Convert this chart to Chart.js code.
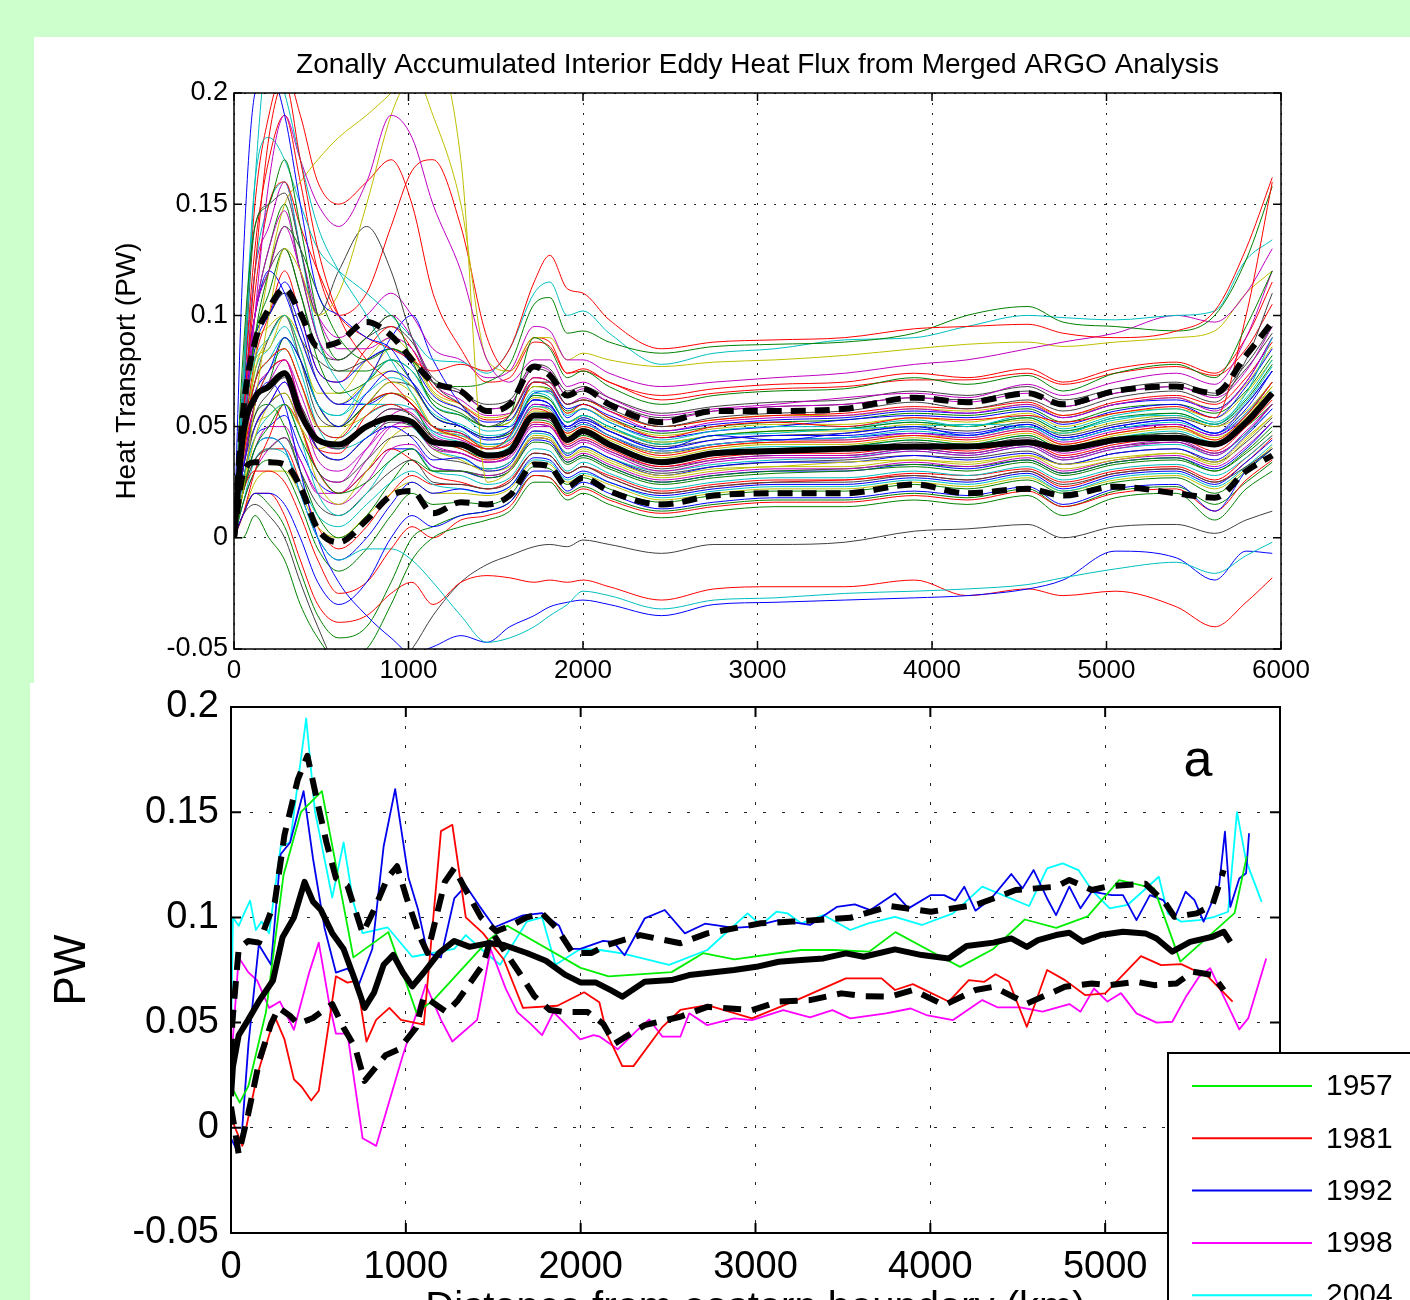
<!DOCTYPE html>
<html><head><meta charset="utf-8">
<script src="https://cdn.jsdelivr.net/npm/chart.js@4.4.0/dist/chart.umd.min.js"></script>
<style>
html,body{margin:0;padding:0;overflow:hidden;background:#ccffcc;width:1410px;height:1300px;position:relative}
#p1{position:absolute;left:34px;top:37px;width:1376px;height:646px;background:#fff}
#p2{position:absolute;left:30px;top:683px;width:1380px;height:700px;background:#fff}
#c1{position:absolute;left:0;top:0}
#c2{position:absolute;left:0;top:683px}
</style></head><body>
<div id="p1"></div><div id="p2"></div>
<canvas id="c1" width="1410" height="683"></canvas>
<canvas id="c2" width="1410" height="760"></canvas>
<script>
// ---------------- TOP PANEL DATA ----------------
const TOP_TITLE = 'Zonally Accumulated Interior Eddy Heat Flux from Merged ARGO Analysis';
const TOP_YLABEL = 'Heat Transport (PW)';
const TOP_X_TICKS = [0, 1000, 2000, 3000, 4000, 5000, 6000];
const TOP_Y_TICKS = [-0.05, 0, 0.05, 0.1, 0.15, 0.2];
const X_TOP = [0,50,120,200,290,380,480,600,760,900,1020,1140,1300,1450,1580,1720,1810,1910,2000,2150,2450,2750,3100,3500,3900,4200,4550,4750,5050,5400,5620,5800,5950];
const TOP_MEAN  = [0,.045,.063,.068,.074,.056,.044,.042,.050,.054,.052,.043,.042,.037,.039,.055,.055,.044,.048,.042,.034,.038,.039,.040,.041,.041,.043,.040,.044,.045,.042,.052,.065];
const TOP_UPPER = [0,.055,.088,.103,.112,.101,.086,.088,.097,.091,.080,.070,.066,.057,.060,.077,.073,.064,.067,.060,.052,.057,.057,.058,.063,.061,.065,.060,.066,.068,.065,.082,.097];
const TOP_LOWER = [0,.028,.034,.034,.033,.023,.004,-.002,.008,.019,.021,.011,.016,.015,.019,.033,.032,.023,.027,.021,.015,.019,.020,.020,.024,.020,.022,.019,.023,.020,.018,.030,.037];
const T01=[0,.12,.2,.21,.19,.15,.11,.1,.09,.085,.07,.055,.05,.045,.048,.062,.06,.05,.054,.048,.04,.046,.044,.047,.05,.046,.051,.045,.05,.053,.047,.06,.075];
const T02=[0,.08,.14,.15,.17,.14,.1,.08,.09,.1,.08,.06,.055,.05,.055,.09,.085,.072,.075,.068,.06,.064,.066,.067,.072,.069,.073,.066,.074,.078,.072,.095,.12];
const T03=[0,.05,.12,.18,.205,.17,.13,.1,.08,.07,.06,.05,.047,.04,.046,.07,.068,.056,.06,.054,.045,.05,.052,.05,.054,.053,.055,.052,.056,.059,.054,.1,.16];
const T04=[0,.06,.16,.22,.2,.17,.14,.12,.1,.08,.065,.05,.048,.04,.045,.065,.063,.052,.055,.05,.042,.046,.047,.049,.05,.051,.05,.047,.054,.055,.051,.065,.09];
const T05=[0,.04,.1,.16,.19,.17,.15,.14,.16,.19,.18,.15,.12,.08,.07,.08,.08,.068,.07,.063,.055,.058,.06,.063,.065,.063,.069,.064,.07,.074,.069,.09,.12];
const T06=[0,.02,.06,.1,.13,.12,.1,.11,.15,.19,.21,.22,.17,.025,.03,.045,.044,.036,.04,.035,.028,.031,.032,.034,.035,.034,.037,.033,.036,.038,.034,.045,.055];
const T07=[0,.06,.14,.15,.155,.13,.1,.12,.14,.12,.09,.07,.06,.05,.055,.07,.07,.06,.062,.058,.05,.054,.056,.057,.061,.058,.062,.057,.063,.066,.061,.08,.11];
const T08=[0,.03,.05,.06,.07,.055,.04,.035,.045,.05,.045,.035,.036,.03,.033,.048,.047,.037,.041,.036,.028,.032,.034,.034,.037,.035,.038,.033,.038,.04,.035,.046,.058];
const T09=[0,.02,.04,.05,.06,.045,.03,.02,.025,.035,.04,.03,.03,.027,.03,.043,.042,.033,.036,.031,.024,.027,.029,.03,.032,.03,.034,.028,.033,.035,.03,.038,.048];
const T10=[0,.04,.07,.08,.085,.07,.05,.045,.06,.065,.06,.05,.045,.04,.042,.058,.056,.047,.05,.045,.037,.041,.043,.043,.046,.044,.048,.042,.047,.05,.044,.055,.07];
const T11=[0,.05,.08,.09,.1,.085,.06,.055,.07,.08,.075,.06,.055,.048,.05,.066,.065,.055,.058,.052,.044,.048,.05,.05,.053,.05,.055,.049,.055,.058,.052,.063,.08];
const T12=[0,.03,.06,.07,.08,.06,.035,.03,.04,.05,.05,.04,.038,.034,.036,.05,.05,.04,.043,.038,.03,.034,.036,.036,.039,.037,.041,.035,.04,.043,.037,.048,.06];
const T13=[0,.02,.045,.06,.065,.05,.025,.015,.03,.045,.05,.04,.035,.03,.032,.046,.045,.036,.039,.034,.027,.03,.032,.032,.035,.033,.037,.031,.035,.038,.033,.044,.055];
const T14=[0,.03,.055,.065,.072,.06,.045,.04,.05,.058,.055,.045,.042,.038,.04,.055,.053,.044,.047,.042,.034,.038,.04,.04,.043,.041,.045,.039,.044,.047,.042,.052,.065];
const T15=[0,.04,.065,.075,.09,.08,.06,.05,.065,.075,.07,.058,.05,.044,.046,.062,.06,.05,.053,.048,.04,.044,.046,.046,.049,.047,.051,.045,.05,.053,.047,.058,.075];
const T16=[0,.045,.09,.11,.13,.11,.08,.065,.07,.08,.07,.055,.05,.045,.047,.064,.062,.052,.055,.05,.042,.046,.048,.049,.052,.05,.054,.048,.054,.056,.051,.062,.078];
const T17=[0,.035,.06,.075,.08,.06,.04,.038,.055,.06,.055,.045,.04,.035,.038,.052,.051,.042,.045,.04,.032,.036,.038,.038,.041,.039,.043,.037,.042,.045,.039,.05,.062];
const T18=[0,.025,.045,.055,.06,.045,.02,.01,.02,.035,.04,.03,.028,.024,.027,.04,.039,.03,.034,.029,.022,.025,.027,.027,.03,.028,.032,.026,.031,.033,.028,.036,.046];
const T19=[0,.05,.1,.12,.14,.12,.09,.08,.09,.1,.09,.07,.062,.055,.056,.072,.07,.06,.063,.057,.048,.052,.054,.055,.058,.056,.06,.054,.06,.063,.057,.07,.09];
const T20=[0,.03,.05,.055,.06,.05,.04,.045,.06,.07,.065,.05,.045,.04,.042,.057,.056,.046,.049,.044,.036,.04,.042,.042,.045,.043,.047,.041,.046,.049,.044,.055,.068];
const T21=[0,.02,.035,.04,.045,.03,.015,.01,.02,.03,.035,.025,.024,.022,.025,.038,.037,.029,.032,.027,.02,.023,.025,.025,.028,.026,.03,.024,.029,.031,.025,.032,.04];
const T22=[0,.01,.02,.02,.015,0,-.02,-.03,-.02,0,.01,.005,.01,.012,.016,.03,.03,.021,.025,.02,.013,.016,.018,.018,.021,.019,.023,.015,.022,.024,.012,.03,.04];
const T23=[0,0,.01,0,-.01,-.03,-.045,-.055,-.05,-.03,-.01,0,.005,.008,.012,.025,.025,.017,.02,.015,.009,.012,.014,.014,.017,.015,.019,.01,.018,.02,.008,.022,.03];
const T24=[0,.02,.03,.03,.025,.01,-.01,-.025,-.02,-.005,.005,0,.008,.01,.014,.028,.027,.019,.022,.017,.011,.014,.016,.016,.019,.017,.021,.014,.02,.022,.012,.026,.035];
const T25=[0,.02,.04,.045,.04,.02,0,-.01,-.005,-.005,-.01,-.02,-.035,-.047,-.045,-.04,-.035,-.03,-.024,-.026,-.032,-.028,-.027,-.025,-.024,-.023,-.021,-.018,-.014,-.011,-.016,-.008,-.002];
const T26=[0,.03,.06,.07,.06,.03,0,-.02,-.035,-.045,-.052,-.049,-.044,-.047,-.04,-.035,-.031,-.029,-.028,-.03,-.035,-.03,-.029,-.028,-.027,-.026,-.023,-.019,-.006,-.009,-.019,-.006,-.007];
const T27=[0,.01,.02,.02,.01,-.01,-.03,-.038,-.035,-.025,-.02,-.03,-.02,-.017,-.018,-.02,-.019,-.02,-.019,-.022,-.028,-.023,-.022,-.022,-.019,-.026,-.023,-.026,-.024,-.031,-.04,-.029,-.018];
const T28=[0,.01,.015,.01,0,-.02,-.04,-.06,-.07,-.06,-.05,-.035,-.02,-.012,-.008,-.004,-.003,-.004,-.001,-.003,-.007,-.003,-.003,-.002,.003,.004,.006,0,.005,.006,.002,.008,.012];
const T29=[0,.05,.11,.15,.16,.14,.12,.1,.09,.085,.08,.075,.078,.075,.085,.115,.127,.112,.11,.098,.085,.088,.089,.09,.094,.095,.096,.092,.09,.093,.102,.13,.162];
const T30=[0,.04,.09,.12,.14,.13,.11,.09,.08,.085,.08,.07,.068,.07,.078,.105,.108,.092,.093,.088,.083,.086,.087,.088,.092,.1,.104,.097,.095,.093,.1,.125,.158];
const T31=[0,.07,.16,.18,.17,.15,.13,.12,.11,.1,.09,.08,.079,.074,.085,.11,.115,.1,.102,.092,.078,.083,.085,.089,.09,.095,.1,.099,.098,.1,.102,.125,.134];
const T32=[0,.05,.1,.13,.147,.12,.1,.09,.1,.11,.1,.085,.08,.072,.075,.095,.093,.08,.08,.074,.068,.07,.072,.074,.078,.08,.085,.088,.092,.1,.097,.11,.13];
const T33=[0,.03,.08,.12,.15,.16,.17,.18,.19,.2,.21,.19,.15,.08,.075,.09,.09,.08,.083,.08,.077,.079,.08,.082,.085,.087,.088,.086,.088,.09,.093,.11,.12];
const T34=[0,.06,.1,.12,.11,.09,.07,.06,.07,.09,.1,.08,.06,.05,.05,.065,.066,.054,.058,.052,.045,.048,.05,.053,.055,.054,.057,.051,.057,.06,.054,.068,.085];
const T35=[0,.03,.06,.07,.09,.08,.06,.05,.06,.065,.06,.045,.04,.036,.039,.053,.052,.043,.046,.041,.035,.038,.04,.041,.044,.042,.046,.04,.045,.047,.042,.05,.06];
const T36=[0,.01,.03,.045,.06,.05,.03,.02,.03,.04,.035,.028,.025,.022,.026,.038,.037,.029,.032,.028,.021,.024,.026,.026,.029,.028,.031,.025,.03,.032,.026,.036,.046];
const T37=[0,.04,.07,.08,.09,.075,.05,.04,.045,.055,.05,.04,.036,.031,.034,.047,.046,.038,.041,.036,.03,.033,.035,.036,.039,.037,.041,.035,.04,.042,.037,.047,.058];
const T38=[0,.02,.04,.05,.05,.035,.02,.015,.025,.04,.042,.032,.03,.028,.031,.045,.044,.035,.038,.033,.026,.029,.031,.031,.034,.032,.036,.03,.035,.037,.032,.041,.052];
const T39=[0,.05,.08,.085,.1,.09,.07,.06,.07,.075,.068,.055,.05,.045,.048,.063,.062,.052,.054,.049,.043,.046,.048,.048,.051,.05,.053,.047,.052,.055,.05,.057,.07];
const T40=[0,.04,.07,.09,.1,.08,.055,.05,.06,.07,.068,.055,.05,.045,.047,.062,.06,.05,.053,.048,.041,.044,.046,.047,.05,.048,.052,.046,.051,.054,.05,.06,.075];
const T41=[0,.05,.09,.1,.115,.1,.075,.07,.08,.085,.078,.064,.058,.052,.053,.07,.068,.058,.06,.055,.048,.051,.053,.054,.057,.056,.059,.054,.06,.062,.058,.07,.09];
const T42=[0,.015,.03,.035,.03,.015,-.005,-.015,-.005,.01,.02,.015,.016,.015,.019,.032,.031,.024,.027,.022,.016,.019,.021,.021,.024,.022,.026,.02,.025,.027,.02,.03,.04];
const T43=[0,.06,.13,.17,.19,.16,.12,.1,.11,.14,.165,.17,.14,.09,.075,.09,.088,.074,.075,.07,.062,.065,.067,.068,.071,.071,.074,.069,.074,.077,.073,.085,.105];
const T44=[0,.05,.12,.15,.16,.13,.09,.07,.06,.06,.055,.048,.046,.042,.044,.059,.058,.048,.051,.046,.039,.042,.044,.045,.048,.046,.05,.044,.049,.052,.047,.056,.07];
const T45=[0,.03,.05,.06,.07,.05,.03,.025,.04,.055,.058,.048,.044,.04,.043,.06,.058,.048,.051,.046,.039,.042,.044,.044,.047,.045,.049,.043,.048,.051,.046,.056,.07];
const T46=[0,.04,.07,.08,.085,.07,.05,.05,.07,.085,.08,.065,.058,.05,.052,.068,.066,.056,.058,.053,.046,.049,.051,.051,.054,.052,.056,.05,.056,.058,.054,.065,.08];
const T47=[0,.05,.09,.1,.11,.09,.08,.075,.08,.085,.08,.07,.065,.06,.062,.078,.076,.066,.068,.063,.056,.059,.061,.062,.066,.064,.068,.062,.067,.07,.065,.078,.095];
const T48=[0,.02,.04,.045,.04,.02,0,-.01,0,.015,.025,.02,.022,.02,.023,.036,.035,.027,.03,.025,.019,.022,.024,.024,.027,.025,.029,.022,.028,.03,.024,.034,.044];
const T49=[0,.01,.02,.015,.005,-.015,-.035,-.045,-.04,-.02,0,.005,.01,.012,.016,.028,.027,.02,.023,.018,.012,.015,.017,.017,.02,.018,.022,.014,.021,.023,.015,.025,.034];
const T50=[0,.07,.15,.19,.21,.19,.16,.15,.16,.17,.15,.11,.085,.07,.072,.088,.086,.074,.076,.07,.064,.067,.069,.07,.074,.072,.076,.07,.076,.079,.074,.09,.115];
const T51=[0,.015,.035,.04,.038,.025,.01,.005,.015,.025,.03,.024,.022,.02,.023,.035,.034,.026,.029,.025,.018,.021,.023,.023,.026,.024,.028,.021,.027,.029,.023,.032,.042];
const T52=[0,.06,.12,.14,.16,.13,.1,.085,.085,.09,.085,.07,.065,.058,.06,.077,.075,.064,.067,.061,.053,.057,.059,.06,.063,.061,.065,.059,.065,.068,.063,.075,.095];
const T53=[0,.035,.075,.09,.1,.085,.06,.05,.055,.065,.062,.05,.046,.041,.044,.059,.057,.047,.05,.045,.038,.041,.043,.044,.046,.045,.049,.042,.047,.05,.045,.054,.068];
const T54=[0,.025,.05,.06,.065,.05,.03,.025,.035,.045,.046,.037,.034,.031,.034,.048,.047,.038,.041,.036,.029,.032,.034,.035,.037,.036,.039,.033,.038,.04,.034,.043,.054];
const T55=[0,.045,.085,.1,.11,.095,.07,.06,.06,.065,.06,.05,.047,.042,.044,.06,.059,.049,.052,.046,.038,.042,.044,.045,.047,.046,.05,.044,.049,.051,.046,.055,.07];
const T56=[0,.03,.055,.06,.05,.03,.01,0,.01,.025,.035,.03,.03,.028,.031,.045,.044,.034,.037,.032,.025,.028,.03,.031,.033,.032,.035,.029,.034,.036,.03,.039,.05];
const T57=[0,.04,.08,.1,.12,.1,.075,.07,.085,.095,.085,.068,.06,.053,.055,.072,.07,.06,.062,.057,.05,.053,.055,.056,.059,.058,.061,.055,.061,.064,.06,.072,.088];
const T58=[0,.03,.06,.075,.085,.07,.05,.045,.055,.06,.058,.047,.043,.038,.041,.056,.054,.045,.048,.043,.035,.039,.041,.041,.044,.042,.046,.04,.045,.048,.043,.052,.066];
const T59=[0,.015,.03,.04,.045,.035,.02,.02,.035,.05,.052,.042,.038,.034,.037,.051,.05,.041,.044,.039,.032,.035,.037,.037,.04,.038,.042,.036,.041,.044,.038,.047,.06];
const T60=[0,.01,.025,.03,.03,.02,.005,0,.01,.02,.025,.02,.02,.019,.022,.034,.033,.025,.028,.024,.017,.02,.022,.022,.025,.023,.027,.021,.026,.028,.022,.031,.041];
const T61=[0,.055,.1,.12,.13,.11,.085,.08,.09,.095,.088,.072,.066,.058,.06,.076,.074,.064,.066,.061,.054,.057,.059,.06,.063,.062,.066,.059,.065,.068,.064,.076,.092];
const T62=[0,.025,.045,.05,.055,.04,.025,.02,.03,.04,.04,.032,.03,.027,.03,.044,.043,.034,.037,.032,.025,.028,.03,.03,.033,.031,.035,.029,.034,.036,.031,.04,.052];
const T63=[0,.05,.1,.13,.15,.12,.09,.075,.075,.08,.075,.062,.056,.05,.052,.068,.067,.057,.06,.054,.047,.05,.052,.053,.056,.055,.058,.052,.058,.06,.056,.066,.082];
const T64=[0,.02,.035,.04,.04,.025,.005,-.005,.005,.02,.028,.024,.024,.022,.025,.038,.037,.029,.032,.027,.02,.023,.025,.026,.028,.026,.03,.023,.029,.031,.025,.034,.045];
const T65=[0,.04,.075,.085,.095,.08,.06,.055,.065,.072,.068,.056,.051,.046,.048,.064,.062,.052,.055,.05,.043,.046,.048,.049,.052,.05,.054,.048,.053,.056,.051,.061,.077];
const T66=[0,.035,.065,.075,.08,.065,.045,.04,.05,.058,.056,.046,.042,.037,.04,.054,.053,.044,.047,.042,.034,.037,.039,.04,.042,.041,.044,.038,.043,.046,.041,.05,.064];
const T67=[0,.045,.085,.095,.1,.085,.065,.065,.08,.09,.082,.066,.06,.054,.056,.072,.07,.06,.062,.057,.05,.053,.055,.055,.058,.057,.06,.055,.06,.063,.058,.069,.086];
const T68=[0,.03,.06,.07,.075,.06,.04,.035,.045,.052,.05,.041,.038,.034,.037,.051,.05,.041,.044,.039,.031,.035,.037,.037,.04,.038,.042,.036,.041,.043,.038,.047,.06];
const TOP_THIN = [T01,T02,T03,T04,T05,T06,T07,T08,T09,T10,T11,T12,T13,T14,T15,T16,T17,T18,T19,T20,T21,T22,T23,T24,T25,T26,T27,T28,T29,T30,T31,T32,T33,T34,T35,T36,T37,T38,T39,T40,T41,T42,T43,T44,T45,T46,T47,T48,T49,T50,T51,T52,T53,T54,T55,T56,T57,T58,T59,T60,T61,T62,T63,T64,T65,T66,T67,T68];

// ---------------- BOTTOM PANEL DATA ----------------
const BOT_YLABEL = 'PW';
const BOT_XLABEL = 'Distance from eastern boundary (km)';
const BOT_TAG = 'a';
const BOT_X_TICKS = [0, 1000, 2000, 3000, 4000, 5000];
const BOT_Y_TICKS = [-0.05, 0, 0.05, 0.1, 0.15, 0.2];
const YEARS = ['1957', '1981', '1992', '1998', '2004'];
const Y57_X=[0,50,100,200,300,400,520,700,900,1060,1150,1470,1580,2000,2160,2520,2700,2880,3260,3450,3650,3800,4000,4170,4360,4540,4720,4900,5080,5280,5430,5740,5810];
const Y57  =[.02,.012,.02,.055,.12,.15,.16,.081,.093,.055,.06,.089,.096,.076,.072,.074,.083,.08,.0845,.0845,.0837,.093,.084,.0765,.085,.099,.095,.1005,.1177,.1138,.079,.102,.129];
const Y81_X=[0,65,150,250,306,360,404,459,502,600,666,720,775,830,906,972,1048,1103,1201,1266,1343,1441,1560,1670,1867,2020,2107,2149,2238,2302,2468,2570,2724,2980,3235,3517,3721,3798,3900,4105,4220,4309,4373,4450,4552,4668,4770,4885,5000,5205,5320,5435,5588,5729];
const Y81  =[.005,-.0086,.025,.053,.042,.023,.0195,.013,.0176,.072,.069,.07,.041,.0513,.057,.0513,.05,.049,.141,.144,.1,.0925,.08,.057,.058,.0644,.0597,.0449,.0293,.0293,.048,.056,.0583,.052,.0607,.071,.071,.0655,.0683,.06,.0702,.0694,.073,.0694,.048,.075,.0702,.0631,.0639,.0816,.0773,.0778,.0718,.06];
const Y92_X=[0,33,60,100,159,229,284,338,415,469,535,600,666,731,808,873,939,1015,1070,1124,1201,1277,1343,1419,1507,1670,1780,1877,1932,1998,2129,2187,2251,2366,2481,2596,2711,2877,2980,3133,3312,3465,3568,3657,3798,3875,4003,4079,4143,4194,4258,4348,4463,4527,4591,4668,4719,4795,4859,4923,5038,5102,5179,5256,5332,5396,5460,5511,5563,5652,5685,5716,5767,5806,5823];
const Y92  =[-.005,-.0105,-.005,.04,.087,.0775,.13,.1356,.16,.128,.095,.0738,.0757,.068,.085,.1337,.161,.119,.1037,.083,.081,.109,.115,.1056,.0953,.101,.102,.096,.085,.085,.0888,.0884,.082,.0995,.1035,.0924,.097,.095,.0956,.0987,.0964,.105,.1062,.1035,.1114,.1043,.1106,.1106,.108,.1146,.1032,.109,.1206,.1138,.1225,.109,.1011,.1146,.1043,.1122,.1106,.1106,.0987,.1106,.1082,.0995,.1122,.1082,.098,.1154,.1407,.105,.1185,.121,.14];
const Y98_X=[0,44,98,150,218,280,360,448,502,560,600,666,753,830,983,1114,1201,1266,1408,1485,1572,1638,1714,1779,1845,1998,2074,2110,2212,2315,2392,2468,2570,2621,2724,2877,2980,3159,3312,3440,3542,3747,3888,3977,4130,4297,4386,4514,4642,4795,4859,4936,5013,5090,5179,5294,5384,5460,5537,5601,5767,5818,5921];
const Y98  =[.03,.081,.074,.07,.057,.06,.0466,.074,.088,.06,.0448,.0448,-.005,-.0086,.0345,.068,.0513,.041,.0513,.085,.066,.055,.0494,.044,.055,.042,.044,.0433,.0373,.0457,.0515,.0433,.0433,.0544,.0488,.052,.0512,.0559,.0525,.0559,.052,.0544,.0567,.0536,.0512,.0607,.0572,.0572,.0552,.0588,.0552,.0662,.06,.064,.0544,.05,.0504,.062,.0718,.0758,.0468,.052,.0805];
const Y04_X=[0,11,44,76,109,142,175,218,284,338,430,480,579,644,699,753,895,1037,1277,1343,1430,1539,1692,1780,1856,1998,2110,2238,2506,2724,2954,3031,3120,3184,3261,3389,3542,3645,3798,3951,4130,4297,4565,4668,4757,4847,4923,5026,5128,5307,5358,5435,5537,5626,5703,5754,5806,5895];
const Y04  =[.04,.1,.096,.102,.108,.094,.098,.0925,.1337,.1356,.1946,.1506,.1094,.1356,.1075,.0925,.0953,.0813,.085,.0916,.085,.0775,.098,.1,.0775,.085,.0845,.0829,.0774,.0845,.1019,.0964,.1027,.1019,.0972,.1011,.094,.0972,.1003,.0964,.1019,.1146,.1054,.1233,.1257,.1225,.113,.1043,.1059,.1193,.1019,.098,.0987,.1003,.1027,.15,.127,.1074];
const BM_X=[0,11,44,98,164,240,295,360,421,469,513,579,644,710,764,819,873,928,983,1037,1103,1190,1277,1365,1474,1561,1692,1801,1910,1998,2085,2172,2238,2366,2519,2621,2877,3005,3133,3261,3389,3517,3619,3798,3951,4105,4207,4361,4463,4552,4616,4719,4795,4872,4974,5102,5230,5294,5384,5486,5614,5678,5716];
const BM  =[.015,.029,.044,.0513,.0607,.07,.0906,.1,.1169,.1075,.1037,.0925,.085,.07,.057,.0644,.0775,.0822,.0738,.0672,.0738,.0831,.0888,.086,.0878,.0869,.0831,.0794,.0728,.0691,.0691,.0654,.0623,.0694,.0702,.0726,.075,.0765,.0789,.0797,.0805,.0829,.0813,.0848,.0821,.0805,.0864,.088,.09,.086,.0892,.0916,.0927,.0884,.0916,.0932,.0924,.09,.0837,.0884,.0908,.0932,.0884];
const BU_X=[0,7,44,98,160,251,306,382,437,491,546,600,666,753,819,895,950,1004,1081,1124,1223,1277,1343,1430,1517,1605,1692,1780,1867,1954,2063,2151,2340,2570,2724,3031,3210,3542,3772,4003,4258,4361,4488,4719,4795,4923,5026,5230,5345,5396,5524,5614,5678];
const BU  =[.02,.0494,.085,.0888,.088,.1075,.1393,.1655,.1768,.156,.1356,.1187,.115,.0925,.1037,.1187,.1243,.1094,.0906,.0831,.1169,.1234,.113,.1,.0934,.0963,.1,.1019,.0944,.0831,.0831,.0869,.0916,.0877,.0924,.0972,.098,.0998,.1054,.1027,.1059,.109,.113,.1146,.1178,.113,.1149,.116,.1067,.1003,.1019,.1059,.1225];
const BL_X=[0,44,98,164,229,273,338,382,469,579,644,710,764,884,961,1059,1103,1234,1299,1441,1496,1648,1736,1823,1910,2041,2129,2194,2366,2570,2724,2980,3133,3312,3491,3619,3772,3900,4079,4258,4361,4552,4770,4923,5026,5179,5281,5409,5499,5614,5678];
const BL  =[.01,-.0124,.0064,.0326,.0494,.057,.0532,.0494,.0522,.0588,.0476,.0382,.0223,.0345,.0373,.0476,.0625,.055,.0607,.0775,.0925,.0738,.0625,.056,.055,.055,.0494,.04,.0488,.0528,.0575,.0559,.06,.0607,.0639,.0626,.0623,.0655,.0583,.0655,.067,.059,.067,.0686,.0678,.0694,.0678,.0686,.0742,.0726,.0655];

// ---------------- STYLE ----------------
const FONT = "'Liberation Sans', Arial, Helvetica, sans-serif";
Chart.defaults.font.family = FONT;
Chart.defaults.color = '#000';
const MATLAB = {B:'#0000ff', G:'#008000', R:'#ff0000', C:'#00bfbf', M:'#bf00bf', Y:'#bfbf00', K:'#404040'};
const THIN_COLOR_KEYS = 'BGRCMYKBGRCMYKBGRCMYKBGRCBRKRGCMYBGRCMYKBGRCMYKBGRCMYKBGRCMYKBGRCMYK';
const YEAR_COLORS = ['#00ee00', '#ff0000', '#0000ee', '#ff00ff', '#00ffff'];

function pts(xs, ys) { return xs.map((x, i) => ({x: x, y: ys[i]})); }

const framePlugin = {
  id: 'frame',
  afterDatasetsDraw(chart, args, o) {
    const {ctx, chartArea: a, scales: {x, y}} = chart;
    ctx.save();
    ctx.strokeStyle = '#000';
    ctx.lineWidth = o.lw;
    ctx.strokeRect(a.left, a.top, a.right - a.left, a.bottom - a.top);
    ctx.beginPath();
    x.ticks.forEach(t => {
      const p = x.getPixelForValue(t.value);
      ctx.moveTo(p, a.bottom); ctx.lineTo(p, a.bottom - o.len);
      ctx.moveTo(p, a.top); ctx.lineTo(p, a.top + o.len);
    });
    y.ticks.forEach(t => {
      const p = y.getPixelForValue(t.value);
      ctx.moveTo(a.left, p); ctx.lineTo(a.left + o.len, p);
      ctx.moveTo(a.right, p); ctx.lineTo(a.right - o.len, p);
    });
    ctx.stroke();
    ctx.restore();
  }
};

function axis(ticksArr, min, max, fontSize, pad, fit, dash, isY, title) {
  const s = {
    type: 'linear', min: min, max: max,
    afterBuildTicks: sc => { sc.ticks = ticksArr.map(v => ({value: v})); },
    ticks: {autoSkip: false, maxRotation: 0, padding: pad, font: {size: fontSize}, color: '#000', callback: v => String(v)},
    grid: {color: '#222', lineWidth: 1, drawTicks: false},
    border: {display: false, dash: dash},
    afterFit: isY
      ? (sc => { sc.width = fit; sc.paddingTop = 0; sc.paddingBottom = 0; })
      : (sc => { sc.height = fit; sc.paddingLeft = 0; sc.paddingRight = 0; })
  };
  if (title) s.title = title;
  return s;
}

// ---------------- TOP CHART ----------------
const topSets = [];
topSets.push({data: pts(X_TOP, TOP_MEAN), borderColor: '#000', borderWidth: 6, order: 0});
topSets.push({data: pts(X_TOP, TOP_UPPER), borderColor: '#000', borderWidth: 6, borderDash: [15, 9], order: 1});
topSets.push({data: pts(X_TOP, TOP_LOWER), borderColor: '#000', borderWidth: 6, borderDash: [15, 9], order: 1});
TOP_THIN.forEach((arr, i) => {
  topSets.push({data: pts(X_TOP, arr), borderColor: MATLAB[THIN_COLOR_KEYS[i]], borderWidth: 1, order: 2});
});
topSets.forEach(d => { d.pointRadius = 0; d.fill = false; d.cubicInterpolationMode = 'monotone'; });

new Chart(document.getElementById('c1'), {
  type: 'line',
  data: {datasets: topSets},
  options: {
    responsive: false, animation: false, devicePixelRatio: 1, events: [],
    layout: {padding: {left: 0, right: 129, top: 0, bottom: 0}},
    plugins: {
      legend: {display: false}, tooltip: {enabled: false},
      title: {display: true, text: TOP_TITLE, fullSize: false, color: '#000',
        font: {size: 28, weight: 'normal', lineHeight: 1.2}, padding: {top: 48.2, bottom: 11.2}},
      frame: {lw: 1.5, len: 8}
    },
    scales: {
      x: axis(TOP_X_TICKS, 0, 6000, 26, 6, 34, [2, 8], false),
      y: axis(TOP_Y_TICKS, -0.05, 0.2, 27, 6, 234, [2, 8], true,
        {display: true, text: TOP_YLABEL, color: '#000', font: {size: 28, lineHeight: 1.2}, padding: {top: 110, bottom: 0}})
    }
  },
  plugins: [framePlugin]
});

// ---------------- BOTTOM CHART ----------------
const legendPlugin = {
  id: 'boxLegend',
  afterDraw(chart) {
    const {ctx, chartArea: a} = chart;
    ctx.save();
    ctx.fillStyle = '#000';
    ctx.font = '52px ' + FONT;
    ctx.textAlign = 'center';
    ctx.textBaseline = 'middle';
    ctx.fillText(BOT_TAG, a.right - 82, a.top + 55);
    const lx = a.right - 112, ly = a.bottom - 180;
    ctx.fillStyle = '#fff';
    ctx.fillRect(lx, ly, 500, 500);
    ctx.strokeStyle = '#000';
    ctx.lineWidth = 2;
    ctx.strokeRect(lx, ly, 500, 500);
    ctx.font = '30px ' + FONT;
    ctx.textAlign = 'left';
    chart.data.datasets.filter(d => d.label).forEach((d, i) => {
      const yy = ly + 33 + i * 52.3;
      ctx.strokeStyle = d.borderColor;
      ctx.lineWidth = 2;
      ctx.beginPath(); ctx.moveTo(lx + 24, yy); ctx.lineTo(lx + 144, yy); ctx.stroke();
      ctx.fillStyle = '#000';
      ctx.fillText(d.label, lx + 158, yy + 1);
    });
    ctx.restore();
  }
};

const botSets = [
  {data: pts(BM_X, BM), borderColor: '#000', borderWidth: 6, order: 0},
  {data: pts(BU_X, BU), borderColor: '#000', borderWidth: 6, borderDash: [18, 11], order: 1},
  {data: pts(BL_X, BL), borderColor: '#000', borderWidth: 6, borderDash: [18, 11], order: 1},
  {label: YEARS[0], data: pts(Y57_X, Y57), borderColor: YEAR_COLORS[0], borderWidth: 1.8, order: 2},
  {label: YEARS[1], data: pts(Y81_X, Y81), borderColor: YEAR_COLORS[1], borderWidth: 1.8, order: 2},
  {label: YEARS[2], data: pts(Y92_X, Y92), borderColor: YEAR_COLORS[2], borderWidth: 1.8, order: 2},
  {label: YEARS[3], data: pts(Y98_X, Y98), borderColor: YEAR_COLORS[3], borderWidth: 1.8, order: 2},
  {label: YEARS[4], data: pts(Y04_X, Y04), borderColor: YEAR_COLORS[4], borderWidth: 1.8, order: 2}
];
botSets.forEach(d => { d.pointRadius = 0; d.fill = false; d.tension = 0; d.borderJoinStyle = 'round'; });

new Chart(document.getElementById('c2'), {
  type: 'line',
  data: {datasets: botSets},
  options: {
    responsive: false, animation: false, devicePixelRatio: 1, events: [],
    layout: {padding: {left: 0, right: 130, top: 24, bottom: 0}},
    plugins: {legend: {display: false}, tooltip: {enabled: false}, frame: {lw: 2, len: 10}},
    scales: {
      x: axis(BOT_X_TICKS, 0, 6000, 38, 12, 210, [3, 16], false,
        {display: true, text: BOT_XLABEL, color: '#000', font: {size: 40, lineHeight: 1.2}, padding: {top: 0, bottom: 110}}),
      y: axis(BOT_Y_TICKS, -0.05, 0.2, 38, 12, 231, [3, 16], true,
        {display: true, text: BOT_YLABEL, color: '#000', font: {size: 44, lineHeight: 1.2}, padding: {top: 46.6, bottom: 0}})
    }
  },
  plugins: [framePlugin, legendPlugin]
});
</script>
</body></html>
